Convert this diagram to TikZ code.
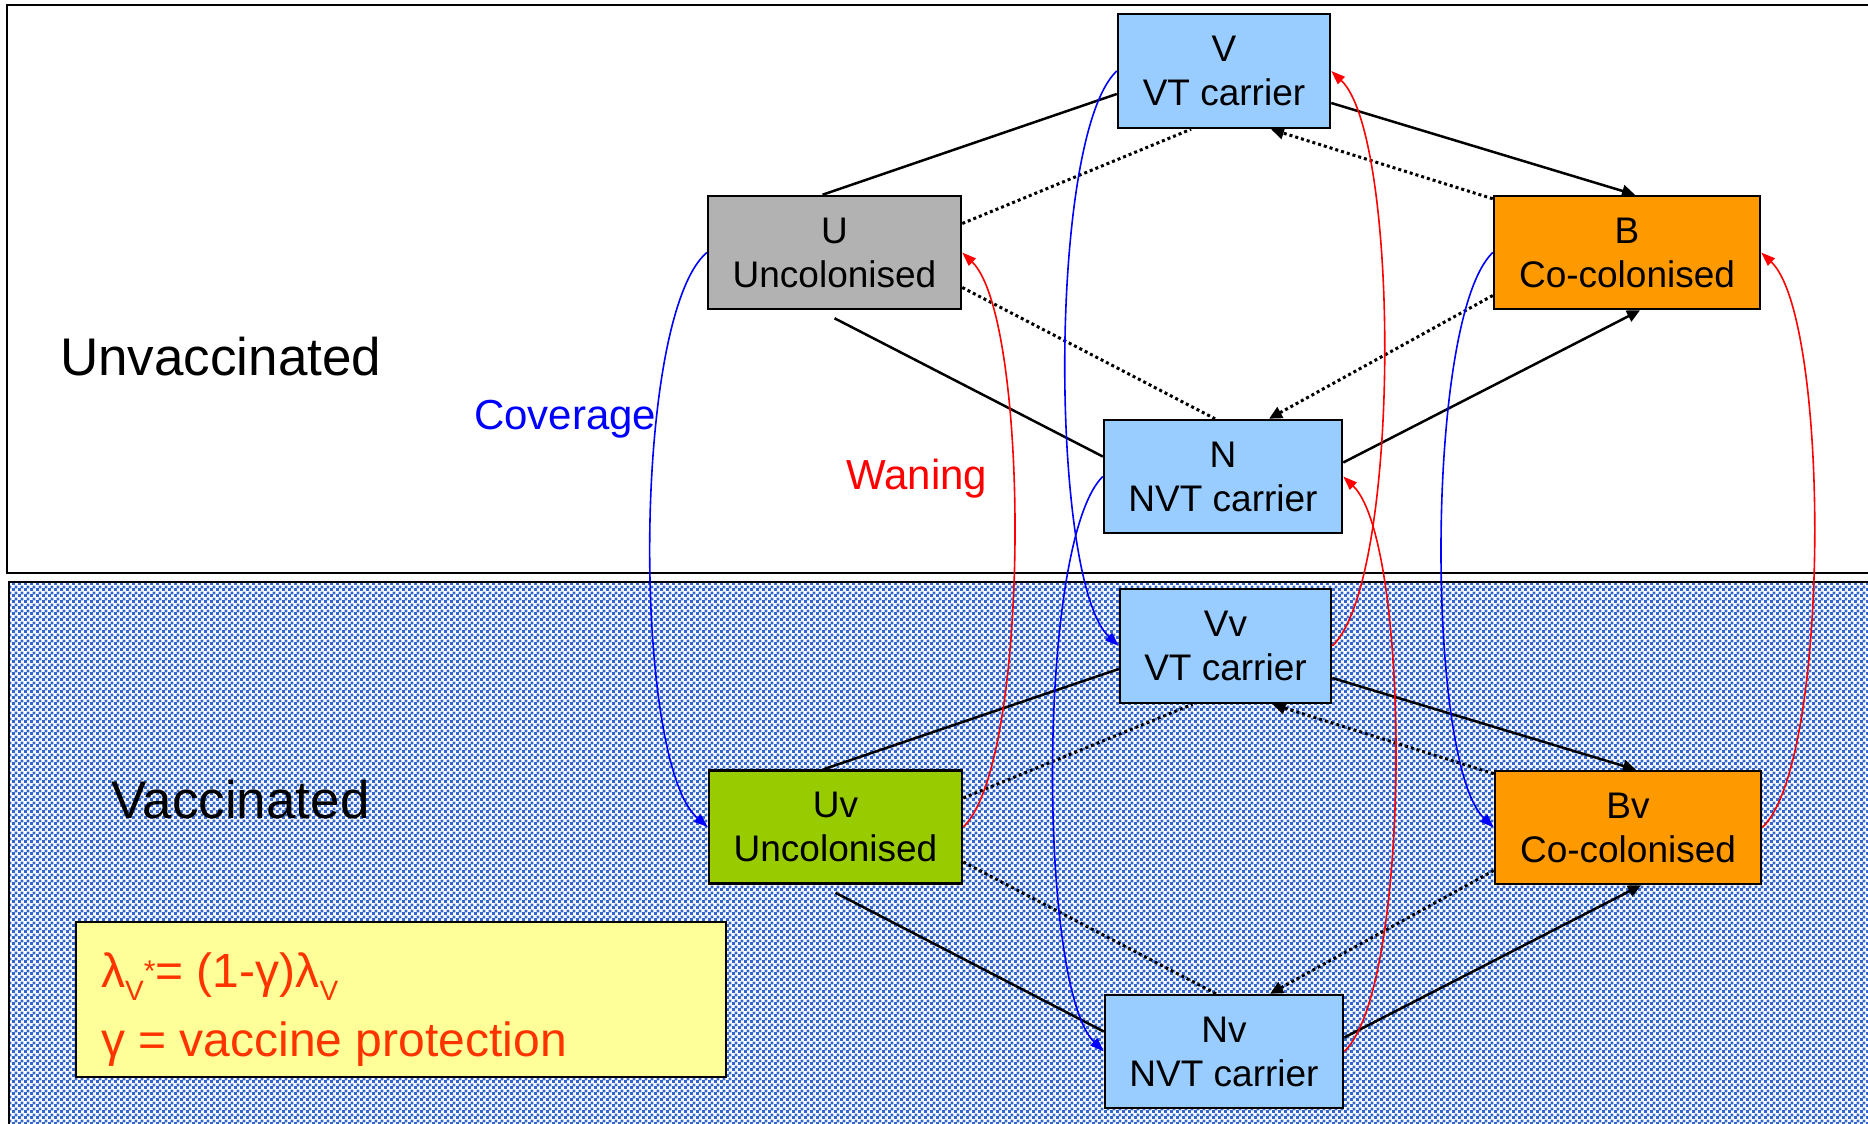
\documentclass[tikz,border=0pt]{standalone}
\usepackage{fontspec}
\setmainfont{Liberation Sans}
\usetikzlibrary{arrows.meta,calc,patterns}

% fine blue/white checkerboard for the vaccinated panel
\pgfdeclarepatternformonly{checkthree}{\pgfpointorigin}{\pgfqpoint{6pt}{6pt}}{\pgfqpoint{6pt}{6pt}}{%
  \pgfpathrectangle{\pgfpointorigin}{\pgfqpoint{3.3pt}{3.3pt}}%
  \pgfpathrectangle{\pgfqpoint{3pt}{3pt}}{\pgfqpoint{3.3pt}{3.3pt}}%
  \pgfusepath{fill}}

\definecolor{checkblue}{RGB}{51,102,204}
\definecolor{carrierblue}{RGB}{153,204,255}
\definecolor{uncolgrey}{RGB}{178,178,178}
\definecolor{coorange}{RGB}{255,153,0}
\definecolor{vacgreen}{RGB}{153,204,0}
\definecolor{noteyellow}{RGB}{255,255,153}
\definecolor{noteorange}{RGB}{255,51,0}

\newcommand\fsub[1]{\raisebox{-13pt}{\fontsize{28}{28}\selectfont #1}}
\newcommand\fsup[1]{\raisebox{6pt}{\fontsize{30}{30}\selectfont #1}}

\begin{document}
\begin{tikzpicture}[x=1pt,y=-1pt,
  state/.style={draw, line width=2.5pt, inner sep=0pt, align=center,
    font=\fontsize{37}{44}\selectfont},
  lab/.style={inner sep=0pt, anchor=base west, font=\fontsize{53}{60}\selectfont},
  smalllab/.style={inner sep=0pt, anchor=base west, font=\fontsize{42}{48}\selectfont},
  formula/.style={inner sep=0pt, anchor=base west, text=noteorange,
    font=\fontsize{48}{56}\selectfont},
  flow/.style={line width=2.5pt, line cap=butt},
  flowarrow/.style={flow, -{Triangle[length=13pt,width=12pt]}},
  dotline/.style={line width=3pt, dash pattern=on 3pt off 3pt},
  dotarrow/.style={dotline, -{Triangle[length=13pt,width=12pt]}},
  covcurve/.style={blue, line width=1.6pt, -{Triangle[length=14pt,width=10pt]}},
  wancurve/.style={red, line width=1.6pt, -{Triangle[length=14pt,width=10pt]}}]

\useasboundingbox (0,0) rectangle (1868,1124);
\clip (0,0) rectangle (1868,1124);

% panels
\draw[line width=2.5pt, fill=white] (7,5) rectangle (1900,573);
\fill[white] (9,582) rectangle (1900,1150);
\fill[pattern=checkthree, pattern color=checkblue] (9,582) rectangle (1900,1150);
\draw[line width=2.5pt] (9,1150) -- (9,582) -- (1900,582);

% panel labels
\node[lab] (unvac) at (60,375) {Unvaccinated};
\node[lab] (vac) at (111,818) {Vaccinated};
\node[smalllab, text=blue] (cov) at (474,429) {Coverage};
\node[smalllab, text=red] (wan) at (846,489) {Waning};

% unvaccinated states
\node[state, fill=uncolgrey, minimum width=253pt, minimum height=113pt] (U) at (834.5,252.5) {U\\Uncolonised};
\node[state, fill=carrierblue, minimum width=212pt, minimum height=114pt] (V) at (1224,71) {V\\VT carrier};
\node[state, fill=coorange, minimum width=266pt, minimum height=113pt] (B) at (1627,252.5) {B\\Co-colonised};
\node[state, fill=carrierblue, minimum width=238pt, minimum height=113pt] (N) at (1223,476.5) {N\\NVT carrier};

% vaccinated states
\node[state, fill=vacgreen, minimum width=253pt, minimum height=113pt] (Uv) at (835.5,827) {Uv\\Uncolonised};
\node[state, fill=carrierblue, minimum width=211pt, minimum height=114pt] (Vv) at (1225.5,646) {Vv\\VT carrier};
\node[state, fill=coorange, minimum width=266pt, minimum height=113pt] (Bv) at (1628,827.5) {Bv\\Co-colonised};
\node[state, fill=carrierblue, minimum width=238pt, minimum height=113pt] (Nv) at (1224,1051.5) {Nv\\NVT carrier};

% note box
\node[draw, line width=2.5pt, fill=noteyellow, inner sep=0pt, minimum width=650pt, minimum height=155pt] (note) at (401,999.5) {};
\node[formula] (f1) at (101,987) {λ\fsub{V}\fsup{*}= (1-γ)λ\fsub{V}};
\node[formula] (f2) at (101,1056) {γ = vaccine protection};

% acquisition and clearance, both panels
\foreach \u/\v/\b/\n in {U/V/B/N, Uv/Vv/Bv/Nv}{
  \draw[flow] ($(\u.north)+(-12,0)$) -- ($(\v.west)+(0,23)$);
  \draw[flowarrow] ($(\v.east)+(0,32)$) -- ($(\b.north)+(8,0)$);
  \draw[flow] ($(\u.south)+(0,8)$) -- ($(\n.west)+(0,-20)$);
  \draw[flowarrow] ($(\n.east)+(0,-14)$) -- ($(\b.south)+(13,0)$);
  \draw[dotline] ($(\u.east)+(0,-29)$) -- ($(\v.south)+(-33,0)$);
  \draw[dotarrow] ($(\b.north west)+(0,4)$) -- ($(\v.south)+(47,0)$);
  \draw[dotline] ($(\u.east)+(0,35)$) -- ($(\n.north)+(-8,0)$);
  \draw[dotarrow] ($(\b.west)+(0,43)$) -- ($(\n.north)+(46,0)$);
}

% vaccine coverage
\draw[covcurve] (U.west) .. controls ($(U.west)+(-75,65)$) and ($(Uv.west)+(-75,-65)$) .. (Uv.west);
\draw[covcurve] (V.west) .. controls ($(V.west)+(-69,65)$) and ($(Vv.west)+(-69,-65)$) .. (Vv.west);
\draw[covcurve] (N.west) .. controls ($(N.west)+(-66,65)$) and ($(Nv.west)+(-66,-65)$) .. (Nv.west);
\draw[covcurve] (B.west) .. controls ($(B.west)+(-68,65)$) and ($(Bv.west)+(-68,-65)$) .. (Bv.west);

% waning of protection
\draw[wancurve] (Uv.east) .. controls ($(Uv.east)+(68,-65)$) and ($(U.east)+(68,65)$) .. (U.east);
\draw[wancurve] (Vv.east) .. controls ($(Vv.east)+(69,-65)$) and ($(V.east)+(69,65)$) .. (V.east);
\draw[wancurve] (Nv.east) .. controls ($(Nv.east)+(68,-65)$) and ($(N.east)+(68,65)$) .. (N.east);
\draw[wancurve] (Bv.east) .. controls ($(Bv.east)+(69,-65)$) and ($(B.east)+(69,65)$) .. (B.east);

\end{tikzpicture}
\end{document}
